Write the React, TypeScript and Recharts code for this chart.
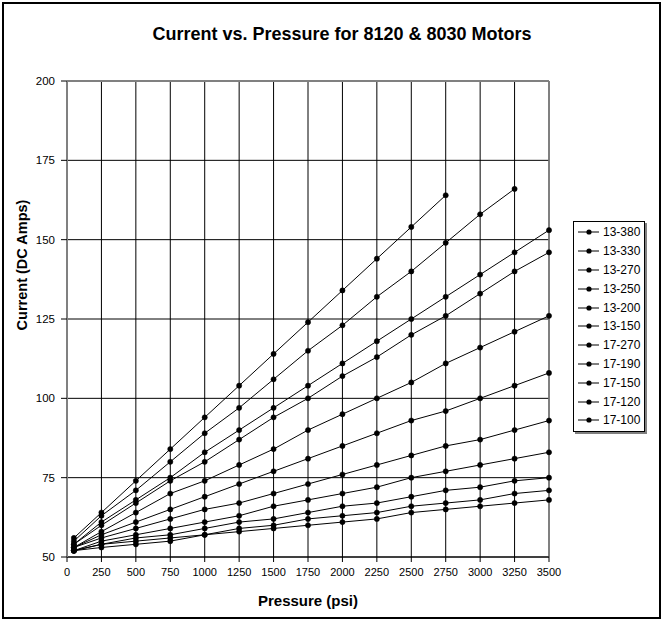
import { CartesianGrid, Line, LineChart, ReferenceLine, XAxis, YAxis } from 'recharts'

const PRESSURE = [50, 250, 500, 750, 1000, 1250, 1500, 1750, 2000, 2250, 2500, 2750, 3000, 3250, 3500]

const M13_380 = [56, 64, 74, 84, 94, 104, 114, 124, 134, 144, 154, 164]
const M13_330 = [55, 63, 71, 80, 89, 97, 106, 115, 123, 132, 140, 149, 158, 166]
const M13_270 = [54, 61, 68, 75, 83, 90, 97, 104, 111, 118, 125, 132, 139, 146, 153]
const M13_250 = [54, 60, 67, 74, 80, 87, 94, 100, 107, 113, 120, 126, 133, 140, 146]
const M13_200 = [53, 58, 64, 70, 74, 79, 84, 90, 95, 100, 105, 111, 116, 121, 126]
const M13_150 = [53, 57, 61, 65, 69, 73, 77, 81, 85, 89, 93, 96, 100, 104, 108]
const M17_270 = [53, 56, 59, 62, 65, 67, 70, 73, 76, 79, 82, 85, 87, 90, 93]
const M17_190 = [52, 55, 57, 59, 61, 63, 66, 68, 70, 72, 75, 77, 79, 81, 83]
const M17_150 = [52, 54, 56, 57, 59, 61, 62, 64, 66, 67, 69, 71, 72, 74, 75]
const M17_120 = [52, 54, 55, 56, 57, 59, 60, 62, 63, 64, 66, 67, 68, 70, 71]
const M17_100 = [52, 53, 54, 55, 57, 58, 59, 60, 61, 62, 64, 65, 66, 67, 68]

const SERIES: { name: string; values: number[] }[] = [
  { name: '13-380', values: M13_380 },
  { name: '13-330', values: M13_330 },
  { name: '13-270', values: M13_270 },
  { name: '13-250', values: M13_250 },
  { name: '13-200', values: M13_200 },
  { name: '13-150', values: M13_150 },
  { name: '17-270', values: M17_270 },
  { name: '17-190', values: M17_190 },
  { name: '17-150', values: M17_150 },
  { name: '17-120', values: M17_120 },
  { name: '17-100', values: M17_100 },
]

const X_TICKS = [0, 250, 500, 750, 1000, 1250, 1500, 1750, 2000, 2250, 2500, 2750, 3000, 3250, 3500]
const Y_TICKS = [50, 75, 100, 125, 150, 175, 200]

const FONT = '"Liberation Sans", Arial, sans-serif'

const rows = PRESSURE.map((p, i) => {
  const row: Record<string, number | undefined> = { pressure: p }
  SERIES.forEach((s) => {
    row[s.name] = s.values[i]
  })
  return row
})

function LegendBox() {
  return (
    <div
      style={{
        position: 'absolute',
        left: 573,
        top: 221,
        width: 70,
        padding: '1px 0',
        border: '1px solid #000',
        boxShadow: '2px 2px 0 #808080',
        background: '#fff',
        fontFamily: FONT,
        fontSize: 12,
      }}
    >
      {SERIES.map((s) => (
        <div key={s.name} style={{ display: 'flex', alignItems: 'center', height: 18.8 }}>
          <svg width={26} height={10} style={{ marginLeft: 3 }}>
            <line x1={1} y1={5} x2={22} y2={5} stroke="#000" strokeWidth={1} />
            <circle cx={12} cy={5} r={2.6} fill="#000" />
          </svg>
          <span>{s.name}</span>
        </div>
      ))}
    </div>
  )
}

export default function App() {
  return (
    <div style={{ position: 'absolute', left: 0, top: 0, width: 664, height: 622, background: '#fff' }}>
      <div
        style={{
          position: 'absolute',
          left: 2,
          top: 2,
          width: 655,
          height: 613,
          border: '2px solid #000',
        }}
      />
      <div
        style={{
          position: 'absolute',
          left: 0,
          width: 664,
          top: 24,
          textAlign: 'center',
          fontFamily: FONT,
          fontWeight: 'bold',
          fontSize: 18,
          paddingLeft: 10,
        }}
      >
        Current vs. Pressure for 8120 &amp; 8030 Motors
      </div>
      <LineChart
        width={664}
        height={622}
        data={rows}
        margin={{ top: 81, right: 115, bottom: 35, left: 0 }}
        style={{ position: 'absolute', left: 0, top: 0 }}
      >
        <CartesianGrid stroke="#000" strokeWidth={1} />
        <XAxis
          dataKey="pressure"
          type="number"
          domain={[0, 3500]}
          ticks={X_TICKS}
          interval={0}
          height={30}
          stroke="#000"
          tickSize={5}
          tickMargin={6}
          tick={{ fill: '#000', fontSize: 11, fontFamily: FONT }}
        />
        <YAxis
          type="number"
          domain={[50, 200]}
          ticks={Y_TICKS}
          interval={0}
          width={67}
          axisLine={{ stroke: '#808080', strokeWidth: 2 }}
          tickLine={{ stroke: '#000' }}
          tickSize={6}
          tickMargin={6}
          tick={{ fill: '#000', fontSize: 11.5, fontFamily: FONT }}
        />
        <ReferenceLine y={200} stroke="#808080" strokeWidth={2} />
        <ReferenceLine x={3500} stroke="#808080" strokeWidth={1.5} />
        {SERIES.map((s) => (
          <Line
            key={s.name}
            type="linear"
            dataKey={s.name}
            stroke="#000"
            strokeWidth={1}
            dot={{ r: 2.6, fill: '#000', stroke: '#000', strokeWidth: 0.5 }}
            isAnimationActive={false}
          />
        ))}
      </LineChart>
      <div
        style={{
          position: 'absolute',
          left: 67,
          width: 482,
          top: 592,
          textAlign: 'center',
          fontFamily: FONT,
          fontWeight: 'bold',
          fontSize: 15,
        }}
      >
        Pressure (psi)
      </div>
      <div
        style={{
          position: 'absolute',
          left: 22,
          top: 265,
          transform: 'translate(-50%, -50%) rotate(-90deg)',
          whiteSpace: 'nowrap',
          fontFamily: FONT,
          fontWeight: 'bold',
          fontSize: 14.5,
        }}
      >
        Current (DC Amps)
      </div>
      <LegendBox />
    </div>
  )
}
